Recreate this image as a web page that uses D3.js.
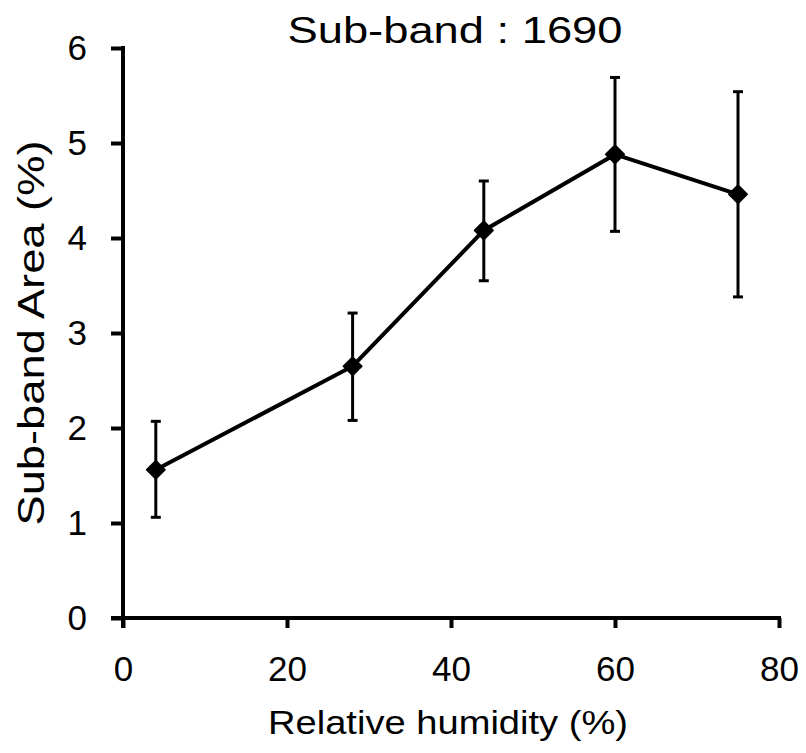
<!DOCTYPE html>
<html>
<head>
<meta charset="utf-8">
<script src="https://cdn.jsdelivr.net/npm/d3@7"></script>
<style>
	body { margin: 0; background: #fff; }
	text { font-family: "Liberation Sans", Arial, sans-serif; fill: #000; }
</style>
</head>
<body>
<div id="chart"></div>
<script>
// data
var humidity = [4, 28, 44, 60, 75];
var area = [1.56, 2.65, 4.08, 4.88, 4.46];
var errLow = [1.06, 2.08, 3.55, 4.07, 3.38];
var errHigh = [2.07, 3.21, 4.60, 5.69, 5.54];
var xTicks = [0, 20, 40, 60, 80];
var yTicks = [0, 1, 2, 3, 4, 5, 6];

function init(){
	var width = 806;
	var height = 753;

	var svg = d3.select("#chart").append("svg")
				.attr("width", width)
				.attr("height", height);

	var x = d3.scaleLinear().domain([0, 80]).range([123, 779]);
	var y = d3.scaleLinear().domain([0, 6]).range([618, 48]);

	var points = humidity.map(function(h, i){
		return {x: h, y: area[i], lo: errLow[i], hi: errHigh[i]};
	});

	//axes
	var xAxis = svg.append("g")
				   .attr("transform", "translate(0," + y(0) + ")")
				   .call(d3.axisBottom(x).tickValues(xTicks).tickFormat(d3.format("d"))
				   		.tickSize(10).tickPadding(28).tickSizeOuter(0));
	xAxis.select(".domain").attr("stroke", "#000").attr("stroke-width", 4)
		 .attr("d", "M" + (x(0) - 12) + ",0H" + (x(80) + 2));
	xAxis.selectAll(".tick line").attr("stroke", "#000").attr("stroke-width", 4);
	xAxis.selectAll(".tick text").attr("font-size", 35).attr("fill", "#000");

	var yAxis = svg.append("g")
				   .attr("transform", "translate(" + x(0) + ",0)")
				   .call(d3.axisLeft(y).tickValues(yTicks).tickFormat(d3.format("d"))
				   		.tickSize(12).tickPadding(24).tickSizeOuter(0));
	yAxis.select(".domain").attr("stroke", "#000").attr("stroke-width", 4)
		 .attr("d", "M0," + (y(0) + 10) + "V" + (y(6) - 2));
	yAxis.selectAll(".tick line").attr("stroke", "#000").attr("stroke-width", 4);
	yAxis.selectAll(".tick text").attr("font-size", 35).attr("fill", "#000");

	//error bars
	var err = svg.append("g").selectAll("g").data(points).enter().append("g");
	err.append("line")
	   .attr("x1", d => x(d.x)).attr("x2", d => x(d.x))
	   .attr("y1", d => y(d.lo)).attr("y2", d => y(d.hi))
	   .attr("stroke", "#000").attr("stroke-width", 3);
	err.append("line")
	   .attr("x1", d => x(d.x) - 5).attr("x2", d => x(d.x) + 5)
	   .attr("y1", d => y(d.hi)).attr("y2", d => y(d.hi))
	   .attr("stroke", "#000").attr("stroke-width", 3);
	err.append("line")
	   .attr("x1", d => x(d.x) - 5).attr("x2", d => x(d.x) + 5)
	   .attr("y1", d => y(d.lo)).attr("y2", d => y(d.lo))
	   .attr("stroke", "#000").attr("stroke-width", 3);

	//line
	var line = d3.line().x(d => x(d.x)).y(d => y(d.y));
	svg.append("path")
	   .datum(points)
	   .attr("d", line)
	   .attr("fill", "none")
	   .attr("stroke", "#000")
	   .attr("stroke-width", 4);

	//diamond markers
	svg.selectAll("path.marker").data(points).enter()
	   .append("path")
	   .attr("class", "marker")
	   .attr("d", d3.symbol().type(d3.symbolDiamond2).size(220))
	   .attr("transform", d => "translate(" + x(d.x) + "," + y(d.y) + ")")
	   .attr("fill", "#000")
	   .attr("stroke", "#000")
	   .attr("stroke-width", 1.5)
	   .attr("stroke-linejoin", "round");

	//titles
	svg.append("text")
	   .attr("x", 455)
	   .attr("y", 43)
	   .attr("text-anchor", "middle")
	   .attr("font-size", 37)
	   .attr("textLength", 335)
	   .attr("lengthAdjust", "spacingAndGlyphs")
	   .text("Sub-band : 1690");

	svg.append("text")
	   .attr("x", 448)
	   .attr("y", 734)
	   .attr("text-anchor", "middle")
	   .attr("font-size", 33)
	   .attr("textLength", 360)
	   .attr("lengthAdjust", "spacingAndGlyphs")
	   .text("Relative humidity (%)");

	svg.append("text")
	   .attr("transform", "translate(44,333) rotate(-90)")
	   .attr("text-anchor", "middle")
	   .attr("font-size", 37)
	   .attr("textLength", 385)
	   .attr("lengthAdjust", "spacingAndGlyphs")
	   .text("Sub-band Area (%)");
}

window.onload = init;
</script>
</body>
</html>
